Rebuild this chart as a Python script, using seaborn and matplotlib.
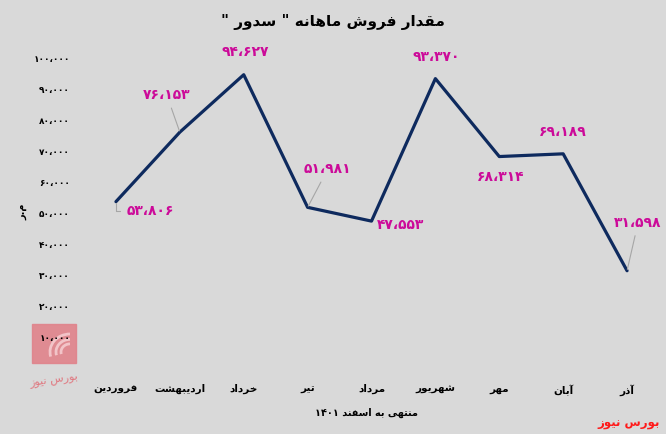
import numpy as np
import pandas as pd
import matplotlib
matplotlib.use('Agg')
import matplotlib.pyplot as plt
from matplotlib.patches import Rectangle, Arc
import seaborn as sns

# data (left to right as drawn in the reference)
months = ['فروردین', 'اردیبهشت', 'خرداد', 'تیر', 'مرداد', 'شهریور', 'مهر', 'آبان', 'آذر']
sales = [53806, 76153, 94627, 51981, 47553, 93370, 68314, 69189, 31598]
y_ticks = [10000, 20000, 30000, 40000, 50000, 60000, 70000, 80000, 90000, 100000]
title = 'مقدار فروش ماهانه " سدور "'
x_title = 'منتهی به اسفند ۱۴۰۱'
y_title = 'م.ر'
source = 'بورس نیوز'

# label offsets in pixels (dx, dy) and whether a leader line is drawn
label_off = [(34, -9), (-13, 37), (2, 23), (20, 38), (29, -4), (1, 22), (1, -20), (0, 22), (11, 48)]
leader = [True, True, False, True, False, False, False, False, True]

# minimal Persian shaping: matplotlib has no bidi / joining support
FORMS = {
    'ا': ('\uFE8D', '\uFE8E', None, None),
    'آ': ('\uFE81', '\uFE82', None, None),
    'ب': ('\uFE8F', '\uFE90', '\uFE91', '\uFE92'),
    'ت': ('\uFE95', '\uFE96', '\uFE97', '\uFE98'),
    'خ': ('\uFEA5', '\uFEA6', '\uFEA7', '\uFEA8'),
    'د': ('\uFEA9', '\uFEAA', None, None),
    'ذ': ('\uFEAB', '\uFEAC', None, None),
    'ر': ('\uFEAD', '\uFEAE', None, None),
    'ز': ('\uFEAF', '\uFEB0', None, None),
    'س': ('\uFEB1', '\uFEB2', '\uFEB3', '\uFEB4'),
    'ش': ('\uFEB5', '\uFEB6', '\uFEB7', '\uFEB8'),
    'ف': ('\uFED1', '\uFED2', '\uFED3', '\uFED4'),
    'ق': ('\uFED5', '\uFED6', '\uFED7', '\uFED8'),
    'م': ('\uFEE1', '\uFEE2', '\uFEE3', '\uFEE4'),
    'ن': ('\uFEE5', '\uFEE6', '\uFEE7', '\uFEE8'),
    'ه': ('\uFEE9', '\uFEEA', '\uFEEB', '\uFEEC'),
    'و': ('\uFEED', '\uFEEE', None, None),
    'ی': ('\uFEEF', '\uFEF0', '\uFEF3', '\uFEF4'),
}
DIGITS = set('۰۱۲۳۴۵۶۷۸۹0123456789،')


def shape(text):
    out = []
    for i, ch in enumerate(text):
        if ch not in FORMS:
            out.append(ch)
            continue
        prev = text[i - 1] if i > 0 else ''
        nxt = text[i + 1] if i < len(text) - 1 else ''
        iso, fin, ini, med = FORMS[ch]
        jp = prev in FORMS and FORMS[prev][2] is not None
        jn = nxt in FORMS and ini is not None
        if jp and jn:
            out.append(med)
        elif jp:
            out.append(fin)
        elif jn:
            out.append(ini)
        else:
            out.append(iso)
    vis = out[::-1]
    # keep digit runs left-to-right
    res, run = [], []
    for ch in vis:
        if ch in DIGITS:
            run.append(ch)
        else:
            res.extend(run[::-1]); run = []
            res.append(ch)
    res.extend(run[::-1])
    return ''.join(res)


def fa_num(v):
    return f'{v:,}'.translate(str.maketrans('0123456789,', '۰۱۲۳۴۵۶۷۸۹،'))


sns.set_theme(style='white')
plt.rcParams['font.family'] = ['DejaVu Sans']
plt.rcParams['text.color'] = 'black'
plt.rcParams['xtick.color'] = 'black'
plt.rcParams['ytick.color'] = 'black'
bg = '#d9d9d9'

df = pd.DataFrame({'pos': np.arange(len(months)), 'sales': sales})

fig = plt.figure(figsize=(6.66, 4.34), dpi=100, facecolor=bg)
ax = fig.add_axes([84 / 666, 1 - 369 / 434, (659 - 84) / 666, (369 - 58) / 434])
ax.set_facecolor(bg)

sns.lineplot(data=df, x='pos', y='sales', ax=ax, color='#0e2a5e', linewidth=2.3)

ax.set_xlim(-0.5, len(months) - 0.5)
ax.set_ylim(0, 100000)
ax.set_xticks(df['pos'])
ax.set_xticklabels([shape(m) for m in months], fontsize=7.5, fontweight='bold')
ax.set_yticks(y_ticks)
ax.set_yticklabels([fa_num(v) for v in y_ticks], fontsize=6.5, fontweight='bold')
ax.tick_params(axis='x', length=0, pad=11)
ax.tick_params(axis='y', length=0, pad=10)
ax.set_xlabel('')
ax.set_ylabel('')
for s in ax.spines.values():
    s.set_visible(False)

# data labels
for i, v in enumerate(sales):
    dx, dy = label_off[i]
    ap = None
    if leader[i]:
        cs = 'angle,angleA=0,angleB=90,rad=0' if i == 0 else 'arc3'
        ap = dict(arrowstyle='-', color='#a6a6a6', lw=0.8, connectionstyle=cs,
                  shrinkA=2, shrinkB=1)
    ax.annotate(fa_num(v), xy=(i, v), xytext=(dx, dy), textcoords='offset pixels',
                ha='center', va='center', fontsize=10, fontweight='bold',
                color='#cc0a99', arrowprops=ap)

fig.text(333 / 666, 1 - 22 / 434, shape(title), ha='center', va='center',
         fontsize=11, fontweight='bold')
fig.text(366 / 666, 1 - 413 / 434, shape(x_title), ha='center', va='center',
         fontsize=7, fontweight='bold')
fig.text(22 / 666, 1 - 212 / 434, shape(y_title), ha='center', va='center',
         fontsize=7, fontweight='bold', rotation=90)
fig.text(660 / 666, 1 - 423 / 434, shape(source), ha='right', va='center',
         fontsize=8.5, fontweight='bold', color='#ff1a1a')

# faded logo at bottom left, behind the tick labels
fig.patches.append(Rectangle((32 / 666, 1 - 363 / 434), 44 / 666, 39 / 434,
                             transform=fig.transFigure, color='#e0838b', alpha=0.9, zorder=-2))
for r in (40, 28, 18):
    fig.patches.append(Arc((70 / 666, 1 - 352 / 434), r / 666, r * 0.9 / 434, theta1=90, theta2=200,
                           transform=fig.transFigure, color='#f2c4c8', lw=2, zorder=-1))
fig.text(54 / 666, 1 - 381 / 434, shape(source), ha='center', va='center',
         fontsize=8, color='#e07880', rotation=8, zorder=-1)

fig.savefig('out.png', dpi=100, facecolor=bg)
